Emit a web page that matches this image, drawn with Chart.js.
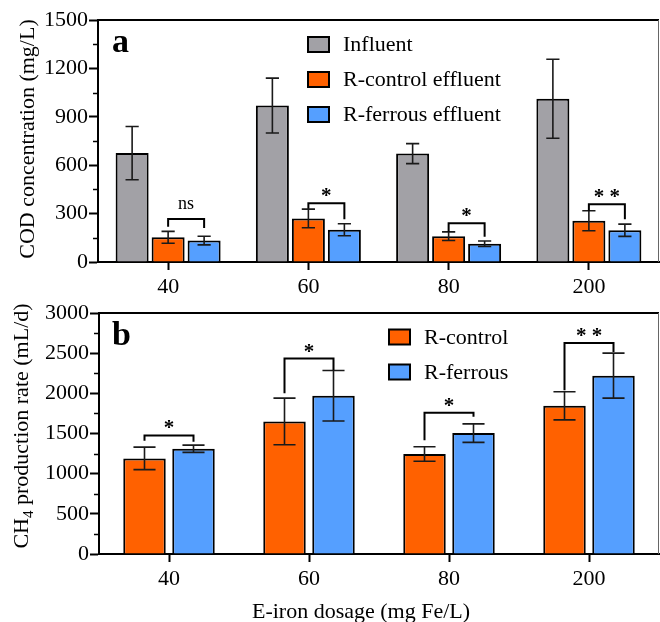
<!DOCTYPE html>
<html>
<head>
<meta charset="utf-8">
<script src="https://cdn.jsdelivr.net/npm/chart.js@4.4.1/dist/chart.umd.min.js"></script>
<style>
  body { margin: 0; background: #fff; }
  .wrap { position: absolute; left: 0; width: 660px; }
  #wrapA { top: 0; height: 300px; z-index: 2; }
  #wrapB { top: 290px; height: 332px; z-index: 1; }
</style>
</head>
<body>
<div class="wrap" id="wrapA"><canvas id="chartA" width="660" height="300"></canvas></div>
<div class="wrap" id="wrapB"><canvas id="chartB" width="660" height="332"></canvas></div>
<script>
const dosages = ["40", "60", "80", "200"];

// panel a: COD
const influent = [675, 970, 672, 1012];
const influentSd = [165, 170, 62, 245];
const codControl = [153, 270, 160, 256];
const codControlSd = [37, 58, 27, 62];
const codFerrous = [133, 200, 113, 197];
const codFerrousSd = [27, 37, 17, 38];
const codSig = ["ns", "*", "*", "**"];
const codSigLine = [267, 364, 240, 358];
const codSigLeft = [219, 330, 188, 318];
const codSigRight = [211, 265, 157, 265];

// panel b: CH4
const ch4Control = [1190, 1650, 1245, 1845];
const ch4ControlSd = [140, 290, 90, 175];
const ch4Ferrous = [1310, 1970, 1505, 2220];
const ch4FerrousSd = [45, 315, 115, 280];
const ch4Sig = ["*", "*", "*", "**"];
const ch4SigLine = [1476, 2433, 1757, 2627];
const ch4SigLeft = [1409, 2002, 1417, 2039];
const ch4SigRight = [1396, 2288, 1707, 2515];

const GRAY = "#a2a1a6";
const ORANGE = "#ff6100";
const BLUE = "#559fff";
const SERIF = "'Liberation Serif', 'Times New Roman', serif";

Chart.defaults.font.family = SERIF;
Chart.defaults.color = "#000";

function makeDecor(cfg) {
  return {
    id: "decor",
    afterDatasetsDraw(chart) {
      const ctx = chart.ctx;
      const y = chart.scales.y;
      ctx.save();
      ctx.strokeStyle = "#1a1a1a";
      ctx.lineWidth = 1.6;
      chart.data.datasets.forEach((ds, i) => {
        const meta = chart.getDatasetMeta(i);
        meta.data.forEach((bar, j) => {
          const top = y.getPixelForValue(ds.data[j] + ds.sd[j]);
          const bot = y.getPixelForValue(ds.data[j] - ds.sd[j]);
          const half = (bar.width * cfg.cap) / 2;
          ctx.beginPath();
          ctx.moveTo(bar.x, top);
          ctx.lineTo(bar.x, bot);
          ctx.moveTo(bar.x - half, top);
          ctx.lineTo(bar.x + half, top);
          ctx.moveTo(bar.x - half, bot);
          ctx.lineTo(bar.x + half, bot);
          ctx.stroke();
        });
      });

      // significance brackets
      const left = chart.getDatasetMeta(cfg.ctrl).data;
      const right = chart.getDatasetMeta(cfg.ferr).data;
      ctx.strokeStyle = "#000";
      ctx.lineWidth = 2;
      ctx.fillStyle = "#000";
      ctx.textAlign = "center";
      ctx.textBaseline = "alphabetic";
      cfg.sig.labels.forEach((lab, j) => {
        const ly = y.getPixelForValue(cfg.sig.line[j]);
        const x1 = left[j].x, x2 = right[j].x;
        ctx.beginPath();
        ctx.moveTo(x1, y.getPixelForValue(cfg.sig.left[j]));
        ctx.lineTo(x1, ly);
        ctx.lineTo(x2, ly);
        ctx.lineTo(x2, y.getPixelForValue(cfg.sig.right[j]));
        ctx.stroke();
        if (lab === "ns") {
          ctx.font = "18px " + SERIF;
          ctx.fillText(lab, (x1 + x2) / 2, ly - 10);
        } else {
          ctx.font = "bold 21px " + SERIF;
          ctx.fillText(lab.split("").join(" "), (x1 + x2) / 2, ly - 1);
        }
      });
      ctx.restore();
    },
    afterDraw(chart) {
      const ctx = chart.ctx;
      const a = chart.chartArea;
      const y = chart.scales.y;
      ctx.save();

      // minor ticks
      ctx.strokeStyle = "#000";
      ctx.lineWidth = 1.5;
      for (let v = y.min; v <= y.max; v += cfg.minor) {
        if (v % cfg.major === 0) continue;
        const py = Math.round(y.getPixelForValue(v)) + 0.5;
        ctx.beginPath();
        ctx.moveTo(a.left - 5, py);
        ctx.lineTo(a.left, py);
        ctx.stroke();
      }

      // frame top and right
      ctx.lineWidth = 2;
      ctx.beginPath();
      ctx.moveTo(a.left, a.top);
      ctx.lineTo(a.right, a.top);
      ctx.stroke();
      ctx.strokeStyle = "#666";
      ctx.lineWidth = 1;
      ctx.beginPath();
      ctx.moveTo(a.right - 0.5, a.top);
      ctx.lineTo(a.right - 0.5, a.bottom);
      ctx.stroke();

      // panel letter
      ctx.fillStyle = "#000";
      ctx.font = "bold 34px " + SERIF;
      ctx.textAlign = "left";
      ctx.textBaseline = "alphabetic";
      ctx.fillText(cfg.letter, 112, cfg.letterY);

      // legend
      ctx.font = "22px " + SERIF;
      ctx.textBaseline = "middle";
      chart.data.datasets.forEach((ds, i) => {
        const cy = cfg.legend.y + i * 35;
        ctx.fillStyle = ds.backgroundColor;
        ctx.fillRect(cfg.legend.x, cy - 7.5, 21, 15);
        ctx.strokeStyle = "#000";
        ctx.lineWidth = 2;
        ctx.strokeRect(cfg.legend.x, cy - 7.5, 21, 15);
        ctx.fillStyle = "#000";
        ctx.fillText(ds.label, cfg.legend.x + 35, cy + 1);
      });

      // y title, with optional subscript
      ctx.translate(cfg.yTitle.x, cfg.yTitle.y);
      ctx.rotate(-Math.PI / 2);
      ctx.textBaseline = "alphabetic";
      ctx.textAlign = "left";
      const big = "22px " + SERIF, small = "15px " + SERIF;
      const parts = cfg.yTitle.parts;
      let total = 0;
      parts.forEach((p) => {
        ctx.font = p.sub ? small : big;
        total += ctx.measureText(p.t).width;
      });
      let px = -total / 2;
      parts.forEach((p) => {
        ctx.font = p.sub ? small : big;
        ctx.fillText(p.t, px, p.sub ? 5 : 0);
        px += ctx.measureText(p.t).width;
      });
      ctx.setTransform(1, 0, 0, 1, 0, 0);

      if (cfg.xTitle) {
        ctx.font = "22px " + SERIF;
        ctx.textAlign = "center";
        ctx.textBaseline = "middle";
        ctx.fillText(cfg.xTitle.text, cfg.xTitle.x, cfg.xTitle.y);
      }
      ctx.restore();
    },
  };
}

function baseOptions(opt) {
  return {
    responsive: false,
    animation: false,
    devicePixelRatio: 1,
    layout: { padding: { top: opt.top, right: 1, left: 0, bottom: 0 } },
    plugins: { legend: { display: false }, tooltip: { enabled: false } },
    datasets: {
      bar: {
        categoryPercentage: opt.cp,
        barPercentage: opt.bp,
        borderColor: "#000",
        borderWidth: 2,
      },
    },
    scales: {
      x: {
        offset: true,
        border: { color: "#000", width: 2 },
        grid: { offset: false, drawOnChartArea: false, tickLength: 8, tickWidth: 2, color: "#000" },
        ticks: { font: { size: 22 }, padding: 4, color: "#000" },
        afterFit: (s) => { s.height = opt.xh; },
      },
      y: {
        min: 0,
        max: opt.max,
        border: { color: "#000", width: 2 },
        grid: { drawOnChartArea: false, tickLength: 9, tickWidth: 2, color: "#000" },
        ticks: { stepSize: opt.step, font: { size: 22 }, padding: 1, color: "#000", callback: (v) => v },
        afterFit: (s) => { s.width = opt.yw; },
      },
    },
  };
}

new Chart(document.getElementById("chartA"), {
  type: "bar",
  data: {
    labels: dosages,
    datasets: [
      { label: "Influent", data: influent, sd: influentSd, backgroundColor: GRAY },
      { label: "R-control effluent", data: codControl, sd: codControlSd, backgroundColor: ORANGE },
      { label: "R-ferrous effluent", data: codFerrous, sd: codFerrousSd, backgroundColor: BLUE },
    ],
  },
  options: baseOptions({ top: 20, cp: 0.77, bp: 0.917, xh: 38, yw: 98, max: 1500, step: 300 }),
  plugins: [
    makeDecor({
      cap: 0.4,
      ctrl: 1,
      ferr: 2,
      minor: 150,
      major: 300,
      letter: "a",
      letterY: 52,
      legend: { x: 308, y: 44.5 },
      sig: { labels: codSig, line: codSigLine, left: codSigLeft, right: codSigRight },
      yTitle: { x: 34, y: 139, parts: [{ t: "COD concentration (mg/L)" }] },
    }),
  ],
});

new Chart(document.getElementById("chartB"), {
  type: "bar",
  data: {
    labels: dosages,
    datasets: [
      { label: "R-control", data: ch4Control, sd: ch4ControlSd, backgroundColor: ORANGE },
      { label: "R-ferrous", data: ch4Ferrous, sd: ch4FerrousSd, backgroundColor: BLUE },
    ],
  },
  options: baseOptions({ top: 23, cp: 0.7, bp: 0.867, xh: 68, yw: 99, max: 3000, step: 500 }),
  plugins: [
    makeDecor({
      cap: 0.52,
      ctrl: 0,
      ferr: 1,
      minor: 250,
      major: 500,
      letter: "b",
      letterY: 55,
      legend: { x: 389, y: 47 },
      sig: { labels: ch4Sig, line: ch4SigLine, left: ch4SigLeft, right: ch4SigRight },
      yTitle: {
        x: 28,
        y: 136,
        parts: [{ t: "CH" }, { t: "4", sub: true }, { t: " production rate (mL/d)" }],
      },
      xTitle: { text: "E-iron dosage (mg Fe/L)", x: 361, y: 322 },
    }),
  ],
});
</script>
</body>
</html>
